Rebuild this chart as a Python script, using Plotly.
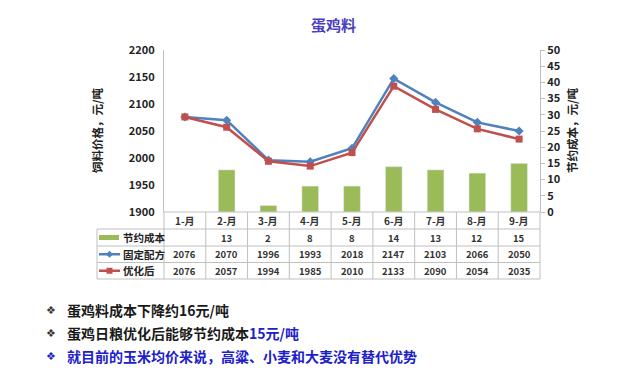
import plotly.graph_objects as go

months = ["1-月", "2-月", "3-月", "4-月", "5-月", "6-月", "7-月", "8-月", "9-月"]
saving = [None, 13, 2, 8, 8, 14, 13, 12, 15]
fixed = [2076, 2070, 1996, 1993, 2018, 2147, 2103, 2066, 2050]
optimized = [2076, 2057, 1994, 1985, 2010, 2133, 2090, 2054, 2035]
left_ticks = [1900, 1950, 2000, 2050, 2100, 2150, 2200]
right_ticks = list(range(0, 55, 5))
row_names = ["节约成本", "固定配方", "优化后"]

OFF = 8  # default page body margin
W, H = 640, 377
pw, ph = 376, 162
L, T = 164 - OFF, 50 - OFF
R, B = W - L - pw, H - T - ph

def px(x):
    return (x - OFF - L) / pw

def py(y):
    return (H - B - (y - OFF)) / ph

FONT = "Noto Sans CJK SC, Noto Sans, sans-serif"
GREEN = "#9bbb59"
BLUE = "#4f81bd"
RED = "#c0504d"
GRID = "#bfbfbf"

fig = go.Figure()
fig.add_trace(go.Bar(x=months, y=saving, yaxis="y2", marker_color=GREEN,
                     width=0.4, name="节约成本"))
fig.add_trace(go.Scatter(x=months, y=fixed, mode="lines+markers", name="固定配方",
                         line=dict(color=BLUE, width=2.5),
                         marker=dict(symbol="diamond", size=7, color=BLUE)))
fig.add_trace(go.Scatter(x=months, y=optimized, mode="lines+markers", name="优化后",
                         line=dict(color=RED, width=2.5),
                         marker=dict(symbol="square", size=7, color=RED)))

shapes = []
annotations = []

# Table grid
row_y = [212, 229, 246, 262.5, 279]
ncol = len(months)
colw = pw / ncol
X0 = 164
shapes.append(dict(type="line", xref="paper", yref="paper", x0=px(X0), x1=px(X0 + pw),
                   y0=py(row_y[0]), y1=py(row_y[0]), line=dict(color=GRID, width=1)))
for yy in row_y[1:]:
    shapes.append(dict(type="line", xref="paper", yref="paper", x0=px(97), x1=px(X0 + pw),
                       y0=py(yy), y1=py(yy), line=dict(color=GRID, width=1)))
for i in range(ncol + 1):
    xx = X0 + i * colw
    shapes.append(dict(type="line", xref="paper", yref="paper", x0=px(xx), x1=px(xx),
                       y0=py(row_y[0]), y1=py(row_y[-1]), line=dict(color=GRID, width=1)))
shapes.append(dict(type="line", xref="paper", yref="paper", x0=px(97), x1=px(97),
                   y0=py(row_y[1]), y1=py(row_y[-1]), line=dict(color=GRID, width=1)))

for m in months:
    annotations.append(dict(x=m, xref="x", y=py((row_y[0] + row_y[1]) / 2), yref="paper",
                            text="<b>%s</b>" % m, showarrow=False,
                            font=dict(size=10, color="#333", family=FONT),
                            xanchor="center", yanchor="middle"))

rows = [saving, fixed, optimized]
for r, vals in enumerate(rows):
    yc = (row_y[r + 1] + row_y[r + 2]) / 2
    for m, v in zip(months, vals):
        if v is None:
            continue
        annotations.append(dict(x=m, xref="x", y=py(yc), yref="paper", text="<b>%d</b>" % v,
                                showarrow=False, font=dict(size=9.5, color="#333", family=FONT),
                                xanchor="center", yanchor="middle"))
    annotations.append(dict(x=px(121), xref="paper", y=py(yc), yref="paper",
                            text="<b>%s</b>" % row_names[r], showarrow=False,
                            font=dict(size=10.5, color="#222", family=FONT),
                            xanchor="left", yanchor="middle"))

# legend keys in table
yk = py((row_y[1] + row_y[2]) / 2)
shapes.append(dict(type="rect", xref="paper", yref="paper", x0=px(99), x1=px(119),
                   y0=yk - 2.5 / ph, y1=yk + 2.5 / ph, fillcolor=GREEN, line=dict(width=0)))
for r, (col, sym) in enumerate([(BLUE, "diamond"), (RED, "square")]):
    yc = py((row_y[r + 2] + row_y[r + 3]) / 2)
    shapes.append(dict(type="line", xref="paper", yref="paper", x0=px(99), x1=px(120),
                       y0=yc, y1=yc, line=dict(color=col, width=2.5)))
    if sym == "square":
        shapes.append(dict(type="rect", xref="paper", yref="paper", x0=px(106.5), x1=px(112.5),
                           y0=yc - 3 / ph, y1=yc + 3 / ph, fillcolor=col, line=dict(width=0)))
    else:
        shapes.append(dict(type="path", xref="paper", yref="paper",
                           path="M %f %f L %f %f L %f %f L %f %f Z" % (
                               px(109.5), yc + 3.5 / ph, px(113), yc, px(109.5), yc - 3.5 / ph, px(106), yc),
                           fillcolor=col, line=dict(width=0)))

# Title
annotations.append(dict(x=px(333), xref="paper", y=py(25), yref="paper", text="<b>蛋鸡料</b>",
                        showarrow=False, font=dict(size=15, color="#4b40c0", family=FONT),
                        xanchor="center", yanchor="middle"))
# Axis titles
annotations.append(dict(x=px(97), xref="paper", y=py(131), yref="paper",
                        text="<b>饲料价格，元/吨</b>", textangle=-90, showarrow=False,
                        font=dict(size=11.5, color="#222", family=FONT), xanchor="center", yanchor="middle"))
annotations.append(dict(x=px(572), xref="paper", y=py(131), yref="paper",
                        text="<b>节约成本，元/吨</b>", textangle=-90, showarrow=False,
                        font=dict(size=11.5, color="#222", family=FONT), xanchor="center", yanchor="middle"))

# Bullets
bullets = [
    ("<b>蛋鸡料成本下降约16元/吨</b>", "#1a1a1a"),
    ("<b>蛋鸡日粮优化后能够节约成本<span style='color:#2020c8'>15元/吨</span></b>", "#1a1a1a"),
    ("<b>就目前的玉米均价来说，高粱、小麦和大麦没有替代优势</b>", "#2020c8"),
]
for i, (txt, col) in enumerate(bullets):
    yy = 310 + i * 23
    annotations.append(dict(x=px(44), xref="paper", y=py(yy), yref="paper", text="❖",
                            showarrow=False, font=dict(size=11, color=("#2020c8" if i == 2 else "#333"),
                                                       family="DejaVu Sans"),
                            xanchor="left", yanchor="middle"))
    annotations.append(dict(x=px(65), xref="paper", y=py(yy), yref="paper", text=txt,
                            showarrow=False, font=dict(size=14, color=col, family=FONT),
                            xanchor="left", yanchor="middle"))

fig.update_layout(
    width=W, height=H,
    margin=dict(l=L, r=R, t=T, b=B),
    paper_bgcolor="white", plot_bgcolor="white",
    showlegend=False,
    font=dict(family=FONT, color="#222"),
    xaxis=dict(type="category", showticklabels=False, showline=False, ticks="",
               showgrid=False, zeroline=False, range=[-0.5, 8.5]),
    yaxis=dict(range=[1900, 2200], tickvals=left_ticks, showgrid=False, zeroline=False,
               showline=True, linecolor=GRID, linewidth=1, ticks="",
               tickfont=dict(size=11, color="#222", family=FONT, weight="bold"), ticklabelstandoff=6),
    yaxis2=dict(range=[0, 50], tickvals=right_ticks, overlaying="y", side="right",
                showgrid=False, zeroline=False, showline=True, linecolor=GRID, linewidth=1,
                ticks="outside", ticklen=4, tickcolor=GRID,
                tickfont=dict(size=11, color="#222", family=FONT, weight="bold")),
    shapes=shapes,
    annotations=annotations,
    bargap=0.6,
)

fig.write_html("out.html")
